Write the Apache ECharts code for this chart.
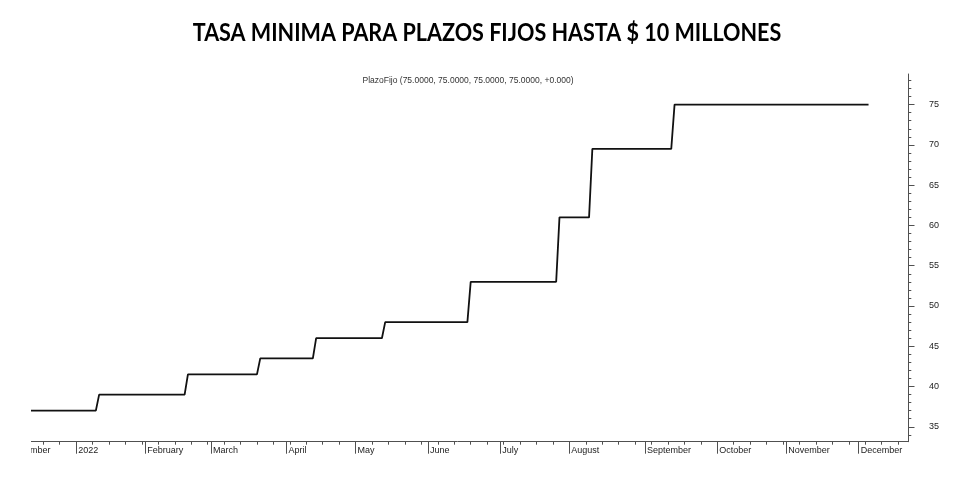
<!DOCTYPE html>
<html>
<head>
<meta charset="utf-8">
<script src="https://cdn.jsdelivr.net/npm/echarts@6/dist/echarts.min.js"></script>
<style>
html,body{margin:0;padding:0;background:#fff;width:980px;height:479px;overflow:hidden;}
#clip{position:absolute;left:31px;top:0;width:949px;height:479px;overflow:hidden;}
#main{position:absolute;left:-31px;top:0;width:980px;height:479px;}
</style>
</head>
<body>
<div id="clip"><div id="main"></div></div>
<script>
// ---- data ----
const chartTitle = 'TASA MINIMA PARA PLAZOS FIJOS HASTA $ 10 MILLONES';
const seriesLabel = 'PlazoFijo (75.0000, 75.0000, 75.0000, 75.0000, +0.000)';
const axisStart = '2021-12-03';
const axisEnd = '2022-12-22';
const lastDataDate = '2022-12-06';
// dates on which the rate changed, and the new rate (%)
const changeDates = ['2021-12-03','2022-01-12','2022-02-18','2022-03-22','2022-04-14','2022-05-13','2022-06-20','2022-07-27','2022-08-10','2022-09-14'];
const rateValues  = [37, 39, 41.5, 43.5, 46, 48, 53, 61, 69.5, 75];
const monthNames = ['2022','February','March','April','May','June','July','August','September','October','November','December'];
const yTickValues = [35, 40, 45, 50, 55, 60, 65, 70, 75];
const yMin = 33.15, yMax = 78.8;

// ---- trading-day categories (weekdays) ----
function fmt(d){return d.toISOString().slice(0,10);}
const categories = [];
for (let d = new Date(axisStart + 'T00:00:00Z'); fmt(d) <= axisEnd; d.setUTCDate(d.getUTCDate()+1)) {
  const wd = d.getUTCDay();
  if (wd !== 0 && wd !== 6) categories.push(fmt(d));
}
const isMonthStart = categories.map((c,i)=> i===0 || c.slice(5,7) !== categories[i-1].slice(5,7));
const isMonday = categories.map(c => new Date(c+'T00:00:00Z').getUTCDay() === 1);

// step series: value of the latest change on or before each day
const values = categories.map(c => {
  if (c > lastDataDate) return null;
  let v = null;
  for (let k = 0; k < changeDates.length; k++) if (changeDates[k] <= c) v = rateValues[k];
  return v;
});
const yMinor = [];
for (let v = Math.ceil(yMin); v <= yMax; v++) yMinor.push(v);

function monthLabel(c){
  const m = parseInt(c.slice(5,7),10);
  if (c.slice(0,4) === '2021') return 'December';
  return monthNames[m-1];
}

const chart = echarts.init(document.getElementById('main'), null, {renderer:'canvas'});
const axisColor = '#505050';
const labelFont = 'Liberation Sans, Arial, sans-serif';
chart.setOption({
  animation:false,
  backgroundColor:'#fff',
  grid:{left:7.08, right:72, top:74, bottom:37.3, containLabel:false, outerBoundsMode:'none'},
  graphic:[
    {type:'text', x:487, y:33, scaleX:0.898, originX:0, style:{text:chartTitle, textAlign:'center', textVerticalAlign:'middle', font:'bold 24px Lato, "Open Sans", sans-serif', fill:'#000'}},
    {type:'text', x:468, y:81, style:{text:seriesLabel, textAlign:'center', textVerticalAlign:'middle', font:'8.5px "Liberation Sans", Arial, sans-serif', fill:'#333'}}
  ],
  xAxis:[
    {type:'category', data:categories, boundaryGap:false, position:'bottom',
     axisLine:{show:true, lineStyle:{color:axisColor, width:1}},
     axisTick:{show:true, interval:(i)=>isMonthStart[i], length:12, lineStyle:{color:axisColor}},
     axisLabel:{show:true, interval:(i)=>isMonthStart[i], formatter:(v)=>monthLabel(v), align:'left', margin:4, padding:[0,0,0,2], fontSize:9, fontFamily:labelFont, color:'#222', hideOverlap:false},
     splitLine:{show:false}},
    {type:'category', data:categories, boundaryGap:false, position:'bottom', offset:0,
     axisLine:{show:false},
     axisTick:{show:true, interval:(i)=>isMonday[i], length:3, lineStyle:{color:axisColor}},
     axisLabel:{show:false}, splitLine:{show:false}}
  ],
  yAxis:[
    {type:'value', position:'right', min:yMin, max:yMax, scale:true,
     axisLine:{show:true, lineStyle:{color:axisColor, width:1}},
     axisTick:{show:true, customValues:yTickValues, length:6.5, lineStyle:{color:axisColor}},
     axisLabel:{show:true, customValues:yTickValues, margin:21, fontSize:9, fontFamily:labelFont, color:'#222'},
     splitLine:{show:false}},
    {type:'value', position:'right', min:yMin, max:yMax, scale:true, offset:0,
     axisLine:{show:false},
     axisTick:{show:true, customValues:yMinor, length:3.3, lineStyle:{color:axisColor}},
     axisLabel:{show:false}, splitLine:{show:false}}
  ],
  series:[
    {type:'line', name:'PlazoFijo', data:values, xAxisIndex:0, yAxisIndex:0, symbol:'none', connectNulls:false,
     lineStyle:{color:'#111', width:1.8}, clip:true}
  ]
});
</script>
</body>
</html>
